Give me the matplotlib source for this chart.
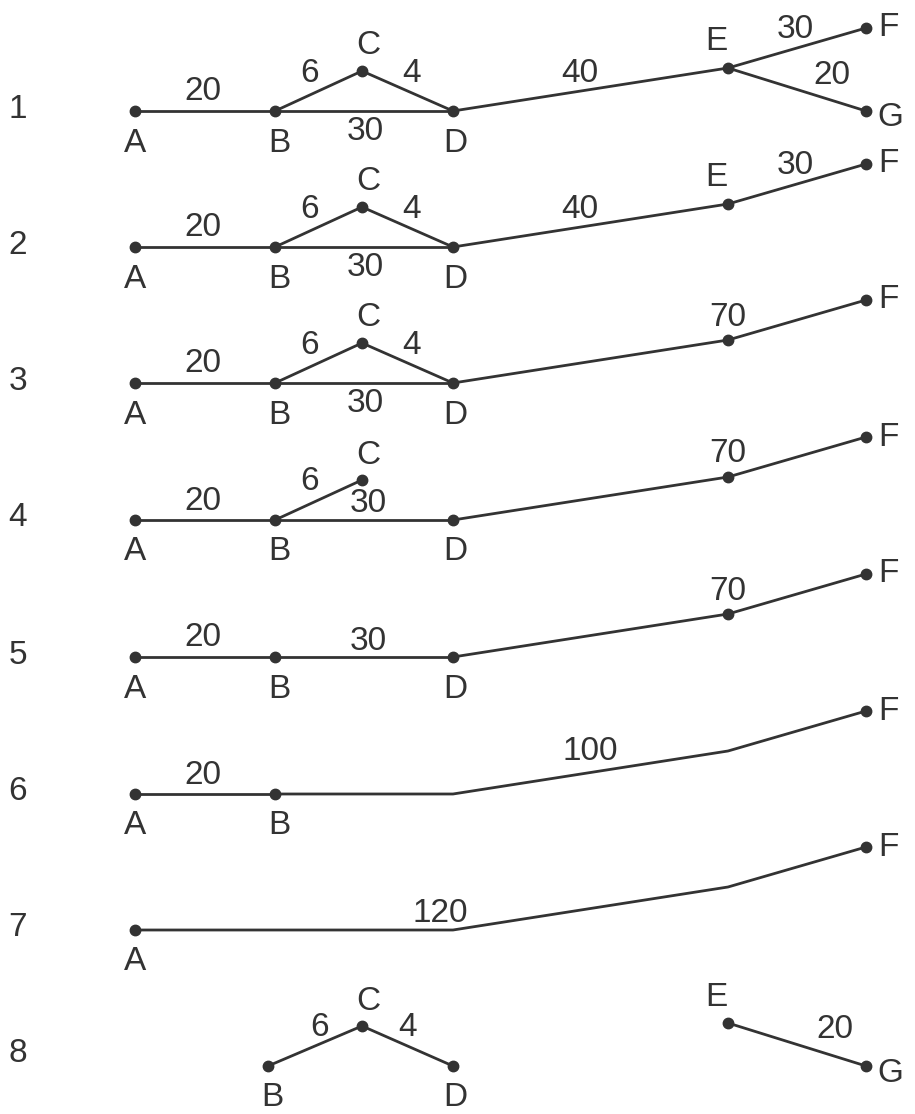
import matplotlib.pyplot as plt

# network reduction steps, one row per step
row_names = ['1', '2', '3', '4', '5', '6', '7', '8']
row_edges = [
    [('AB', 20), ('BC', 6), ('CD', 4), ('BD', 30), ('DE', 40), ('EF', 30), ('EG', 20)],
    [('AB', 20), ('BC', 6), ('CD', 4), ('BD', 30), ('DE', 40), ('EF', 30)],
    [('AB', 20), ('BC', 6), ('CD', 4), ('BD', 30), ('DEF', 70)],
    [('AB', 20), ('BC', 6), ('BD', 30), ('DEF', 70)],
    [('AB', 20), ('BD', 30), ('DEF', 70)],
    [('AB', 20), ('BDEF', 100)],
    [('ABDEF', 120)],
    [('BC', 6), ('CD', 4), ('EG', 20)],
]
row_dots = ['ABCDEFG', 'ABCDEF', 'ABCDEF', 'ABCDEF', 'ABDEF', 'ABF', 'AF', 'BCDEG']
row_letters = ['ABCDEFG', 'ABCDEF', 'ABCDF', 'ABCDF', 'ABDF', 'ABF', 'AF', 'BCDEG']

# layout (pixel space)
row_y = [111, 247, 383, 520, 657, 794, 930, 1066]
node_x = dict(A=135, B=275, C=362, D=453, E=728, F=866, G=866)
node_dy = dict(A=0, B=0, C=-40, D=0, E=-43, F=-83, G=0)
letter_off = dict(A=(0, 32), B=(4, 32), C=(6, -25), D=(2, 32), E=(-12, -26), F=(22, 0), G=(24, 7))
weight_pos = {'AB': (203, -19), 'BC': (310, -38), 'CD': (412, -38), 'BD': (365, 20),
              'DE': (580, -38), 'EF': (795, -82), 'EG': (832, -36), 'DEF': (728, -66),
              'BDEF': (590, -42), 'ABDEF': (440, -17)}

ink = '#333333'
font = dict(family='Liberation Sans', size=24, color=ink, ha='center', va='center')

fig = plt.figure(figsize=(9.15, 11.14), dpi=100)
ax = fig.add_axes([0, 0, 1, 1])
ax.set_xlim(0, 915)
ax.set_ylim(1114, 0)
ax.axis('off')

for i, name in enumerate(row_names):
    y0 = row_y[i]
    nx = dict(node_x)
    if i == 7:
        nx['B'] = 268
    ax.text(18, y0 - 2 if i < 7 else y0 - 12, name, **font)
    pairs = [p for p, w in row_edges[i]]
    for path, w in row_edges[i]:
        xs = [nx[n] for n in path]
        ys = [y0 + node_dy[n] for n in path]
        ax.plot(xs, ys, color=ink, lw=2.0, solid_capstyle='round')
        px, py = weight_pos[path]
        if path == 'BD' and 'CD' not in pairs:
            px, py = 368, -16
        if i == 7:
            px = {'BC': 320, 'CD': 408, 'EG': 835}[path]
        ax.text(px, y0 + py, str(w), **font)
    for n in row_dots[i]:
        ax.plot(nx[n], y0 + node_dy[n], 'o', color=ink, ms=7.5)
    for n in row_letters[i]:
        dx, dy = letter_off[n]
        ax.text(nx[n] + dx, y0 + node_dy[n] + dy, n, **font)

fig.savefig('out.png', dpi=100, facecolor='white')
